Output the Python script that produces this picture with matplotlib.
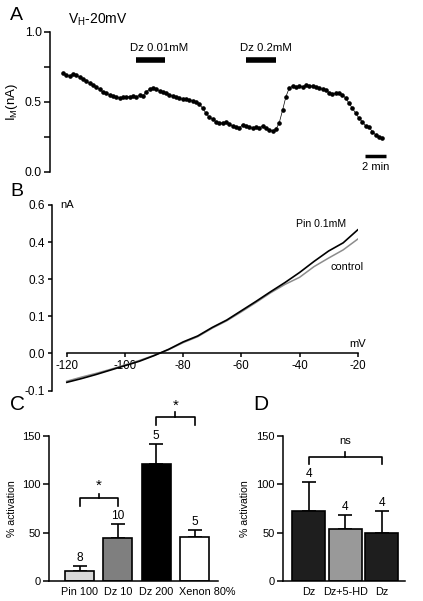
import numpy as np
import matplotlib
matplotlib.use('Agg')
import matplotlib.pyplot as plt
from matplotlib.transforms import ScaledTranslation

plt.rcParams['font.family'] = ['Liberation Sans', 'DejaVu Sans']
plt.rcParams['axes.linewidth'] = 1.1

# ---------------- Panel A data ----------------
sample_interval_s = 19
im_nA = [0.707, 0.690, 0.683, 0.698, 0.693, 0.674, 0.660, 0.648, 0.631, 0.621,
         0.602, 0.588, 0.569, 0.560, 0.550, 0.543, 0.536, 0.526, 0.531, 0.536,
         0.536, 0.540, 0.536, 0.545, 0.540, 0.571, 0.588, 0.600, 0.588, 0.579,
         0.571, 0.560, 0.550, 0.540, 0.531, 0.524, 0.517, 0.517, 0.512, 0.507,
         0.500, 0.483, 0.452, 0.417, 0.388, 0.374, 0.357, 0.345, 0.350, 0.355,
         0.340, 0.326, 0.321, 0.312, 0.336, 0.326, 0.317, 0.310, 0.321, 0.314,
         0.326, 0.310, 0.298, 0.293, 0.302, 0.350, 0.440, 0.536, 0.598, 0.610,
         0.602, 0.612, 0.607, 0.617, 0.612, 0.612, 0.607, 0.598, 0.588, 0.583,
         0.564, 0.555, 0.560, 0.560, 0.550, 0.524, 0.488, 0.452, 0.417, 0.381,
         0.357, 0.326, 0.317, 0.286, 0.262, 0.250, 0.238]
dz_low_window = (6.95, 9.71)     # min
dz_high_window = (17.43, 20.29)  # min
scale_bar = (28.76, 30.76)       # 2 min
a_labels = ['Dz 0.01mM', 'Dz 0.2mM']

# ---------------- Panel B data ----------------
vm = [-120, -115, -110, -105, -100, -95, -90, -85, -80, -75, -70,
      -65, -60, -55, -50, -45, -40, -35, -30, -25, -20]
pin_iv = [-0.078, -0.068, -0.057, -0.045, -0.033, -0.021, -0.006, 0.011, 0.031, 0.047, 0.070,
          0.090, 0.115, 0.140, 0.166, 0.191, 0.218, 0.248, 0.276, 0.298, 0.333]
ctrl_iv = [-0.075, -0.064, -0.054, -0.043, -0.031, -0.019, -0.005, 0.010, 0.029, 0.045, 0.068,
           0.088, 0.112, 0.137, 0.163, 0.186, 0.205, 0.234, 0.257, 0.279, 0.308]
b_yticks = [-0.1, 0.0, 0.1, 0.2, 0.3, 0.4]
b_yticklabels = ['-0.1', '0.0', '0.1', '0.3', '0.4', '0.6']
b_xticks = [-120, -100, -80, -60, -40, -20]

# ---------------- Panel C data ----------------
c_labels = ['Pin 100', 'Dz 10', 'Dz 200', 'Xenon 80%']
c_means = [10.3, 44.0, 120.4, 45.0]
c_err = [5.2, 15.0, 21.0, 8.0]
c_n = [8, 10, 5, 5]
c_colors = ['#d8d8d8', '#7f7f7f', '#000000', '#ffffff']

# ---------------- Panel D data ----------------
d_labels = ['Dz', 'Dz+5-HD', 'Dz']
d_means = [72.6, 53.3, 49.2]
d_err = [29.5, 14.7, 23.4]
d_n = [4, 4, 4]
d_colors = ['#1e1e1e', '#999999', '#1e1e1e']

W, H = 423, 601
fig = plt.figure(figsize=(W / 100, H / 100), dpi=100)

def rect(x0, y0, x1, y1):
    # pixel box (top-left origin) -> figure fraction
    return [x0 / W, 1 - y1 / H, (x1 - x0) / W, (y1 - y0) / H]

# ---------------- Panel A ----------------
axA = fig.add_axes(rect(50, 31.7, 395, 171.7))
t = np.arange(len(im_nA)) * sample_interval_s / 60.0
axA.plot(t, im_nA, '-o', color='k', lw=0.5, ms=2.3, mec='k', mfc='k')
axA.set_ylim(0, 1.0)
axA.set_xlim(-1.24, 31.6)
for s in ['top', 'right', 'bottom']:
    axA.spines[s].set_visible(False)
axA.set_xticks([])
axA.set_yticks([0, 0.5, 1.0])
axA.set_yticklabels(['0.0', '0.5', '1.0'], fontsize=8.8)
axA.set_yticks([0.25, 0.75], minor=True)
axA.tick_params(axis='y', which='both', length=4, width=1.1, direction='out', pad=2)
axA.set_ylabel('I$_\\mathregular{M}$(nA)', fontsize=9.5, labelpad=3)
for (x0, x1), lab in zip([dz_low_window, dz_high_window], a_labels):
    axA.plot([x0, x1], [0.80, 0.80], color='k', lw=4, solid_capstyle='butt')
    tx = axA.text(x0, 0.885, lab, fontsize=8.2, ha='left', va='center')
    tx.set_transform(axA.transData + ScaledTranslation(-0.06, 0, fig.dpi_scale_trans))
axA.plot(scale_bar, [0.112, 0.112], color='k', lw=2.5, solid_capstyle='butt', clip_on=False)
axA.text(np.mean(scale_bar), 0.03, '2 min', fontsize=8, ha='center', va='center')

# ---------------- Panel B ----------------
axB = fig.add_axes(rect(51.7, 205, 357.7, 390.5))
axB.plot(vm, ctrl_iv, color='#8c8c8c', lw=1.1)
axB.plot(vm, pin_iv, color='k', lw=1.2)
axB.set_xlim(-125.2, -20)
axB.set_ylim(-0.1, 0.4)
axB.spines['top'].set_visible(False)
axB.spines['right'].set_visible(False)
axB.spines['bottom'].set_position(('data', 0))
axB.spines['bottom'].set_bounds(-120, -20)
axB.set_xticks(b_xticks)
axB.set_xticklabels([str(v) for v in b_xticks], fontsize=8.3)
axB.set_yticks(b_yticks)
axB.set_yticklabels(b_yticklabels, fontsize=8.5)
axB.tick_params(axis='both', length=3, width=1.1, direction='out', pad=2)
axB.text(-32.6, 0.35, 'Pin 0.1mM', fontsize=7.6, ha='center', va='center')
axB.text(-23.7, 0.233, 'control', fontsize=7.8, ha='center', va='center', clip_on=False)
axB.text(-20, 0.024, 'mV', fontsize=8, ha='center', va='center', clip_on=False)
axB.text(-120, 0.4, 'nA', fontsize=8, ha='center', va='center', clip_on=False)

# ---------------- Panel C & D ----------------
def bar_panel(ax, labels, means, errs, ns, colors, width, xlim):
    x = np.arange(len(means))
    ax.bar(x, means, width=width, color=colors, edgecolor='k', linewidth=1.2, zorder=2)
    ax.errorbar(x, means, yerr=[np.zeros(len(errs)), errs], fmt='none', ecolor='k',
                elinewidth=1.2, capsize=5, capthick=1.2, zorder=1)
    for xi, m, e, n in zip(x, means, errs, ns):
        ax.text(xi, m + e + 2.0, str(n), fontsize=8.6, ha='center', va='bottom')
    ax.set_xlim(*xlim)
    ax.set_ylim(0, 150)
    ax.set_yticks([0, 50, 100, 150])
    ax.set_yticklabels(['0', '50', '100', '150'], fontsize=8)
    ax.set_xticks(x)
    ax.set_xticklabels(labels, fontsize=7.8)
    ax.tick_params(axis='x', length=0, pad=4)
    ax.tick_params(axis='y', length=4, width=1.1, direction='out', pad=2)
    ax.spines['top'].set_visible(False)
    ax.spines['right'].set_visible(False)
    ax.set_ylabel('% activation', fontsize=7.6, labelpad=4)
    return x

def bracket(ax, x0, x1, y, leg, tip, label, ly, fs):
    ax.plot([x0, x0, x1, x1], [y - leg, y, y, y - leg], color='k', lw=1.2, clip_on=False)
    xm = (x0 + x1) / 2
    ax.plot([xm, xm], [y, y + tip], color='k', lw=1.2, clip_on=False)
    ax.text(xm, ly, label, fontsize=fs, ha='center', va='center', clip_on=False)

axC = fig.add_axes(rect(49.3, 435.7, 218, 581))
xc = bar_panel(axC, c_labels, c_means, c_err, c_n, c_colors, 0.76, (-0.79, 3.61))
lbl = axC.get_xticklabels()[-1]
lbl.set_transform(lbl.get_transform() + ScaledTranslation(0.13, 0, fig.dpi_scale_trans))
bracket(axC, 0, 1, 85.3, 7.6, 4.5, '*', 98, 11)
bracket(axC, 2, 3, 169, 7.7, 5, '*', 181, 11)

axD = fig.add_axes(rect(282.7, 435.7, 405, 581))
xd = bar_panel(axD, d_labels, d_means, d_err, d_n, d_colors, 0.91, (-0.72, 2.64))
bracket(axD, 0, 2, 128.3, 7.9, 5, 'ns', 144.8, 8)

# panel letters and header
fig.text(10 / W, 1 - 15 / H, 'A', fontsize=14, ha='left', va='center')
fig.text(10 / W, 1 - 192 / H, 'B', fontsize=14, ha='left', va='center')
fig.text(10 / W, 1 - 405 / H, 'C', fontsize=15, ha='left', va='center')
fig.text(253 / W, 1 - 405 / H, 'D', fontsize=15, ha='left', va='center')
fig.text(68 / W, 1 - 20 / H, 'V$_\\mathregular{H}$-20mV', fontsize=10, ha='left', va='center')

fig.savefig('out.png', dpi=100)
